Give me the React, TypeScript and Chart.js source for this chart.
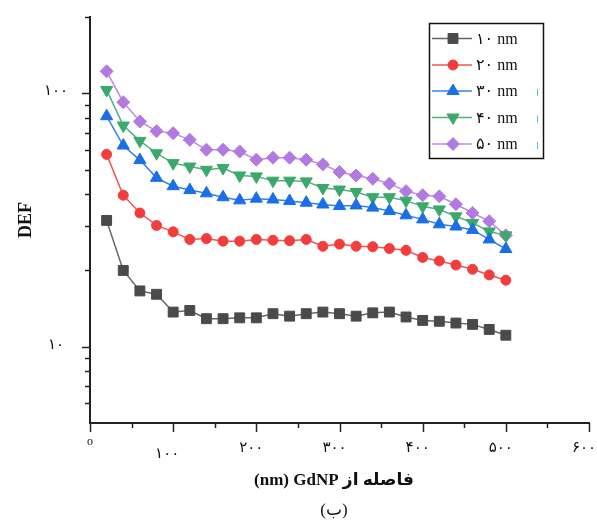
import React, { useEffect, useRef } from 'react';
import { Chart, registerables } from 'chart.js';
import { drawPoint } from 'chart.js/helpers';

Chart.register(...registerables);

const distances = [20, 40, 60, 80, 100, 120, 140, 160, 180, 200, 220, 240, 260, 280, 300, 320, 340, 360, 380, 400, 420, 440, 460, 480, 500];
const def10nm = [31.5, 20.0, 16.6, 16.1, 13.7, 13.9, 12.9, 12.9, 13.0, 13.0, 13.5, 13.2, 13.5, 13.7, 13.5, 13.2, 13.6, 13.7, 13.1, 12.7, 12.6, 12.4, 12.25, 11.7, 11.1];
const def20nm = [57.4, 39.6, 33.7, 30.1, 28.4, 26.5, 26.7, 26.1, 26.1, 26.5, 26.3, 26.2, 26.5, 24.9, 25.4, 24.9, 24.8, 24.4, 24.0, 22.5, 21.8, 21.0, 20.2, 19.2, 18.3];
const def30nm = [81.2, 62.2, 54.5, 46.4, 43.0, 41.5, 40.3, 38.9, 37.8, 38.4, 38.1, 37.6, 37.0, 36.4, 35.9, 36.1, 35.4, 34.3, 33.0, 31.8, 30.4, 29.8, 28.9, 26.5, 24.3];
const def40nm = [103.1, 74.6, 64.9, 58.0, 53.0, 51.4, 49.9, 50.7, 47.4, 47.0, 45.2, 45.2, 44.9, 42.3, 41.7, 40.8, 38.9, 38.9, 37.7, 35.8, 34.8, 32.7, 30.8, 28.5, 27.5];
const def50nm = [122.1, 92.2, 77.4, 70.9, 69.6, 65.5, 59.9, 59.9, 58.9, 54.7, 55.7, 55.7, 54.7, 52.4, 48.9, 47.4, 46.0, 44.0, 41.1, 39.6, 39.2, 36.5, 33.7, 31.3, 27.5];

const seriesLabels = ['۱۰ nm', '۲۰ nm', '۳۰ nm', '۴۰ nm', '۵۰ nm'];
const seriesValues = [def10nm, def20nm, def30nm, def40nm, def50nm];
const seriesColors = ['#4a4a4a', '#f23d3d', '#1a6ee6', '#3aa96a', '#b27ae0'];
const lineColors = ['#666666', '#f25454', '#3380ea', '#4fb27a', '#bc8be4'];
const seriesPointStyles = ['rect', 'circle', 'triangle', 'triangle', 'rectRot'];
const seriesRotations = [0, 0, 0, 180, 0];
const seriesRadii = [7, 5, 7, 7, 6.5];

const xMajorTicks = [0, 100, 200, 300, 400, 500, 600];
const xTickLabels = ['o', '۱۰۰', '۲۰۰', '۳۰۰', '۴۰۰', '۵۰۰', '۶۰۰'];
const xMinorTicks = [50, 150, 250, 350, 450, 550];
const yMajorTicks = [10, 100];
const yTickLabels = ['۱۰', '۱۰۰'];
const yMinorTicks = [6, 7, 8, 9, 20, 30, 40, 50, 60, 70, 80, 90, 200];

const xTitle = '(nm) GdNP فاصله از';
const yTitle = 'DEF';
const caption = '(ب)';

const SERIF = "'Liberation Serif', 'DejaVu Sans', serif";

const decorPlugin = {
  id: 'decor',
  afterDraw(chart: any) {
    const ctx = chart.ctx as CanvasRenderingContext2D;
    const xs = chart.scales.x;
    const ys = chart.scales.y;
    const area = chart.chartArea;
    ctx.save();
    ctx.strokeStyle = '#222';
    ctx.lineWidth = 1.5;
    const yTick = (v: number, len: number) => {
      const py = Math.round(ys.getPixelForValue(v)) + 0.5;
      ctx.beginPath();
      ctx.moveTo(area.left, py);
      ctx.lineTo(area.left - len, py);
      ctx.stroke();
    };
    yMajorTicks.forEach((v) => yTick(v, 8));
    yMinorTicks.forEach((v) => yTick(v, 5));
    const xTick = (v: number, len: number) => {
      const px = Math.round(xs.getPixelForValue(v)) + 0.5;
      ctx.beginPath();
      ctx.moveTo(px, area.bottom);
      ctx.lineTo(px, area.bottom + len);
      ctx.stroke();
    };
    xMajorTicks.forEach((v) => xTick(v, 9));
    xMinorTicks.forEach((v) => xTick(v, 5));

    ctx.fillStyle = '#111';
    ctx.textAlign = 'center';
    ctx.textBaseline = 'middle';
    xMajorTicks.forEach((v, i) => {
      const px = xs.getPixelForValue(v);
      if (i === 0) {
        ctx.font = `12px ${SERIF}`;
        ctx.fillText(xTickLabels[i], px, area.bottom + 19);
      } else if (i === 1) {
        ctx.font = `15px ${SERIF}`;
        ctx.fillText(xTickLabels[i], px - 6, area.bottom + 31);
      } else {
        ctx.font = `15px ${SERIF}`;
        ctx.fillText(xTickLabels[i], px - 5, area.bottom + 25);
      }
    });
    ctx.font = `15px ${SERIF}`;
    yMajorTicks.forEach((v, i) => {
      const py = ys.getPixelForValue(v);
      ctx.fillText(yTickLabels[i], 56, py - 2);
    });

    ctx.font = `bold 17px ${SERIF}`;
    ctx.fillText(xTitle, 334, 481);
    ctx.font = `17px ${SERIF}`;
    ctx.fillText(caption, 334, 511);
    ctx.save();
    ctx.translate(26, 220);
    ctx.rotate(-Math.PI / 2);
    ctx.font = `bold 18px ${SERIF}`;
    ctx.fillText(yTitle, 0, 0);
    ctx.restore();

    const boxL = 429, boxT = 23, boxW = 114, boxH = 135;
    ctx.strokeStyle = '#111';
    ctx.lineWidth = 1.5;
    ctx.strokeRect(boxL + 0.5, boxT + 0.5, boxW, boxH);
    const rowY = [38.5, 65, 91, 117.5, 144];
    seriesLabels.forEach((lab, i) => {
      const y = rowY[i];
      ctx.strokeStyle = lineColors[i];
      ctx.lineWidth = 1.5;
      ctx.beginPath();
      ctx.moveTo(432, y);
      ctx.lineTo(472, y);
      ctx.stroke();
      ctx.fillStyle = seriesColors[i];
      ctx.strokeStyle = seriesColors[i];
      ctx.lineWidth = 1;
      drawPoint(ctx, {
        pointStyle: seriesPointStyles[i] as any,
        rotation: seriesRotations[i],
        radius: seriesRadii[i],
        borderWidth: 1,
      } as any, 453, y);
      ctx.fillStyle = '#111';
      ctx.font = `16px ${SERIF}`;
      ctx.textAlign = 'left';
      ctx.textBaseline = 'middle';
      ctx.fillText(lab, 476, y + 1);
      if (i >= 2) {
        ctx.strokeStyle = '#5ab4e6';
        ctx.lineWidth = 1;
        ctx.beginPath();
        ctx.moveTo(537.5, y - 2);
        ctx.lineTo(537.5, y + 5);
        ctx.stroke();
      }
    });
    ctx.restore();
  },
};

export default function App() {
  const ref = useRef<HTMLCanvasElement | null>(null);
  useEffect(() => {
    if (!ref.current) return;
    const datasets = seriesValues.map((vals, i) => ({
      label: seriesLabels[i],
      data: distances.map((d, j) => ({ x: d, y: vals[j] })),
      borderColor: lineColors[i],
      backgroundColor: seriesColors[i],
      borderWidth: 1.5,
      pointStyle: seriesPointStyles[i],
      pointRotation: seriesRotations[i],
      pointRadius: seriesRadii[i],
      pointBorderWidth: 1,
      pointBackgroundColor: seriesColors[i],
      pointBorderColor: seriesColors[i],
      tension: 0,
      fill: false,
    }));
    const chart = new Chart(ref.current, {
      type: 'line',
      data: { datasets },
      options: {
        responsive: false,
        animation: false,
        devicePixelRatio: 1,
        layout: { padding: { left: 90, right: 3, top: 17, bottom: 102 } },
        plugins: { legend: { display: false }, tooltip: { enabled: false } },
        scales: {
          x: {
            type: 'linear',
            min: 0,
            max: 600,
            grid: { display: false, drawTicks: false },
            ticks: { display: false },
            border: { display: true, width: 2, color: '#222' },
          },
          y: {
            type: 'logarithmic',
            min: 5,
            max: 200,
            grid: { display: false, drawTicks: false },
            ticks: { display: false },
            border: { display: true, width: 2, color: '#222' },
          },
        },
      } as any,
      plugins: [decorPlugin],
    });
    return () => chart.destroy();
  }, []);
  return (
    <div style={{ position: 'absolute', left: 0, top: 0, width: 597, height: 525, background: '#fff' }}>
      <canvas ref={ref} width={597} height={525} style={{ display: 'block' }} />
    </div>
  );
}
